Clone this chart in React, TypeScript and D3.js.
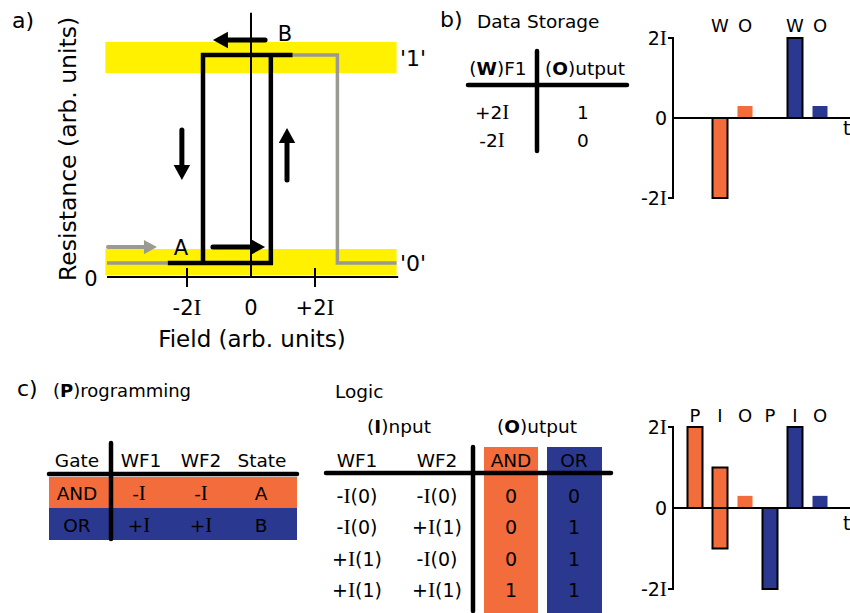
import React from "react";
import * as d3 from "d3";

// ---------- Panel a: hysteresis loop ----------
const LOW = 0.063;
const HIGH = 1.0;
const fieldTicks = [-2, 0, 2];
const fieldTickLabels = ["-2I", "0", "+2I"];
const loopField = [-2.6, 0.62, 0.62, 1.3, -1.5, -1.5];
const loopR = [LOW, LOW, HIGH, HIGH, HIGH, LOW];
const greyInField = [-4.5, -2.6];
const greyInR = [LOW, LOW];
const greyOutField = [1.3, 2.7, 2.7, 4.55];
const greyOutR = [HIGH, HIGH, LOW, LOW];
const bandLow = [0.009, 0.126];
const bandHigh = [0.919, 1.059];
const stateLabels = ["'1'", "'0'"];

// ---------- Panel b: data storage ----------
const storageHeader = ["F1", "utput"];
const storageWrite = ["+2I", "-2I"];
const storageOut = ["1", "0"];
const storageSlots = [2, 3, 5, 6];
const storageKinds = ["W", "O", "W", "O"];
const storageValues = [-2, 0.3, 2, 0.3];
const storageColors = ["orange", "orange", "blue", "blue"];

// ---------- Panel c: programming / logic ----------
const progHeader = ["Gate", "WF1", "WF2", "State"];
const progGates = ["AND", "OR"];
const progWF1 = ["-I", "+I"];
const progWF2 = ["-I", "+I"];
const progState = ["A", "B"];

const logicWF1 = ["-I(0)", "-I(0)", "+I(1)", "+I(1)"];
const logicWF2 = ["-I(0)", "+I(1)", "-I(0)", "+I(1)"];
const logicAND = ["0", "0", "0", "1"];
const logicOR = ["0", "1", "1", "1"];

const logicSlots = [1, 2, 3, 4, 5, 6];
const logicKinds = ["P", "I", "O", "P", "I", "O"];
const logicLow = [0, -1, 0, -2, 0, 0];
const logicHigh = [2, 1, 0.3, 0, 2, 0.3];
const logicColors = ["orange", "orange", "orange", "blue", "blue", "blue"];

const yTickVals = [2, 0, -2];
const yTickLabels = ["2I", "0", "-2I"];

const ORANGE = "#F26D3B";
const BLUE = "#2B3890";
const YELLOW = "#FFF100";
const GREY = "#9a9a92";
const FONT = "DejaVu Sans, Verdana, sans-serif";
const SERIF = "Liberation Serif, Times New Roman, serif";

const colorOf = (c: string) => (c === "orange" ? ORANGE : BLUE);

function serifI(str: string) {
  const parts = str.split("I");
  const out: any[] = [];
  parts.forEach((p, i) => {
    if (p) out.push(<tspan key={"p" + i}>{p}</tspan>);
    if (i < parts.length - 1)
      out.push(
        <tspan key={"i" + i} fontFamily={SERIF} fontSize="1.13em">
          I
        </tspan>
      );
  });
  return out;
}

function Arrow({ x1, y1, x2, y2, color, w, head }: any) {
  const ang = Math.atan2(y2 - y1, x2 - x1);
  const bx = x2 - Math.cos(ang) * head;
  const by = y2 - Math.sin(ang) * head;
  const px = -Math.sin(ang) * head * 0.55;
  const py = Math.cos(ang) * head * 0.55;
  return (
    <g>
      <line x1={x1} y1={y1} x2={bx} y2={by} stroke={color} strokeWidth={w} strokeLinecap="round" />
      <polygon points={`${x2},${y2} ${bx + px},${by + py} ${bx - px},${by - py}`} fill={color} />
    </g>
  );
}

function BarChart({ slots, kinds, low, high, colors, yTop, yBottom, labelY, tY }: any) {
  const x = d3.scaleLinear().domain([0, 1]).range([670, 695]);
  const y = d3.scaleLinear().domain([2, -2]).range([yTop, yBottom]);
  const bw = 15;
  return (
    <g fontFamily={FONT}>
      {slots.map((s: number, i: number) => {
        const outlined = kinds[i] !== "O";
        const y0 = y(Math.max(low[i], high[i]));
        const y1 = y(Math.min(low[i], high[i]));
        return (
          <rect
            key={i}
            x={x(s) - bw / 2}
            y={y0}
            width={bw}
            height={y1 - y0}
            fill={colorOf(colors[i])}
            stroke={outlined ? "#000" : "none"}
            strokeWidth={2}
          />
        );
      })}
      <line x1={673} x2={850} y1={y(0)} y2={y(0)} stroke="#000" strokeWidth={2} />
      <path
        d={`M668,${y(2)} H673 V${y(-2)} H668`}
        fill="none"
        stroke="#000"
        strokeWidth={2}
      />
      {yTickVals.map((v, i) => (
        <text key={i} x={667} y={y(v) + 7} fontSize={19} textAnchor="end">
          {serifI(yTickLabels[i])}
        </text>
      ))}
      <text x={843} y={tY} fontSize={19}>
        t
      </text>
      {slots.map((s: number, i: number) => (
        <text key={"l" + i} x={x(s)} y={labelY} fontSize={18} textAnchor="middle">
          {kinds[i]}
        </text>
      ))}
    </g>
  );
}

export default function App() {
  const xA = d3.scaleLinear().domain([-2, 2]).range([187, 315]);
  const yA = d3.scaleLinear().domain([0, 1]).range([277, 55]);
  const line = d3
    .line<[number, number]>()
    .x((d) => xA(d[0]))
    .y((d) => yA(d[1]));
  const zip = (a: number[], b: number[]) => a.map((v, i) => [v, b[i]] as [number, number]);

  const bandX0 = xA(-4.55);
  const bandX1 = xA(4.55);

  return (
    <svg
      width={850}
      height={613}
      style={{ position: "absolute", left: 0, top: 0, background: "#fff" }}
      fontFamily={FONT}
    >
      <rect x={0} y={0} width={850} height={613} fill="#fff" />
      {/* ---------------- Panel a ---------------- */}
      <text x={12} y={28} fontSize={22}>
        a)
      </text>
      <rect x={bandX0} y={yA(bandHigh[1])} width={bandX1 - bandX0} height={yA(bandHigh[0]) - yA(bandHigh[1])} fill={YELLOW} />
      <rect x={bandX0} y={yA(bandLow[1])} width={bandX1 - bandX0} height={yA(bandLow[0]) - yA(bandLow[1])} fill={YELLOW} />
      {/* axes */}
      <line x1={xA(-4.5)} x2={xA(4.6)} y1={yA(0)} y2={yA(0)} stroke="#000" strokeWidth={2} />
      <line x1={xA(0)} x2={xA(0)} y1={yA(0)} y2={yA(1.19)} stroke="#000" strokeWidth={2} />
      {fieldTicks
        .filter((t) => t !== 0)
        .map((t) => (
          <line key={t} x1={xA(t)} x2={xA(t)} y1={yA(0) - 9} y2={yA(0) + 10} stroke="#000" strokeWidth={2} />
        ))}
      {fieldTicks.map((t, i) => (
        <text key={t} x={xA(t)} y={315} fontSize={21} textAnchor="middle">
          {serifI(fieldTickLabels[i])}
        </text>
      ))}
      <text x={91} y={286} fontSize={21} textAnchor="middle">
        0
      </text>
      <text x={252} y={347} fontSize={23} textAnchor="middle">
        Field (arb. units)
      </text>
      <text
        transform="translate(76,149) rotate(-90)"
        fontSize={23.5}
        textAnchor="middle"
      >
        Resistance (arb. units)
      </text>
      {/* grey path */}
      <path d={line(zip(greyInField, greyInR)) || ""} fill="none" stroke={GREY} strokeWidth={3.5} />
      <path d={line(zip(greyOutField, greyOutR)) || ""} fill="none" stroke={GREY} strokeWidth={3.5} />
      {/* loop */}
      <path
        d={line(zip(loopField, loopR)) || ""}
        fill="none"
        stroke="#000"
        strokeWidth={4.5}
        strokeLinejoin="miter"
      />
      {/* arrows */}
      <Arrow x1={xA(-4.47)} y1={yA(0.135)} x2={xA(-2.94)} y2={yA(0.135)} color={GREY} w={4} head={13} />
      <Arrow x1={xA(-1.19)} y1={yA(0.135)} x2={xA(0.44)} y2={yA(0.135)} color="#000" w={5} head={15} />
      <Arrow x1={xA(0.44)} y1={yA(1.068)} x2={xA(-1.19)} y2={yA(1.068)} color="#000" w={5} head={15} />
      <Arrow x1={xA(-2.16)} y1={yA(0.662)} x2={xA(-2.16)} y2={yA(0.437)} color="#000" w={5} head={15} />
      <Arrow x1={xA(1.125)} y1={yA(0.437)} x2={xA(1.125)} y2={yA(0.671)} color="#000" w={5} head={15} />
      <text x={181} y={255} fontSize={21} textAnchor="middle">
        A
      </text>
      <text x={285} y={41} fontSize={21} textAnchor="middle">
        B
      </text>
      <text x={400} y={66} fontSize={22}>
        {stateLabels[0]}
      </text>
      <text x={400} y={271} fontSize={22}>
        {stateLabels[1]}
      </text>

      {/* ---------------- Panel b ---------------- */}
      <text x={440} y={27} fontSize={22}>
        b)
      </text>
      <text x={477} y={28} fontSize={18.5}>
        Data Storage
      </text>
      <text x={498} y={75} fontSize={18.5} textAnchor="middle">
        (<tspan fontWeight="bold">W</tspan>)
        {storageHeader[0]}
      </text>
      <text x={585} y={75} fontSize={18.5} textAnchor="middle">
        (<tspan fontWeight="bold">O</tspan>)
        {storageHeader[1]}
      </text>
      <line x1={468} x2={627} y1={85} y2={85} stroke="#000" strokeWidth={4.5} strokeLinecap="round" />
      <line x1={537} x2={537} y1={51} y2={151} stroke="#000" strokeWidth={4.5} strokeLinecap="round" />
      {storageWrite.map((w, i) => (
        <g key={i}>
          <text x={492} y={119 + i * 28} fontSize={18.5} textAnchor="middle">
            {serifI(w)}
          </text>
          <text x={583} y={119 + i * 28} fontSize={18.5} textAnchor="middle">
            {storageOut[i]}
          </text>
        </g>
      ))}
      <BarChart
        slots={storageSlots}
        kinds={storageKinds}
        low={storageValues.map((v) => Math.min(0, v))}
        high={storageValues.map((v) => Math.max(0, v))}
        colors={storageColors}
        yTop={38}
        yBottom={198}
        labelY={32}
        tY={135}
      />

      {/* ---------------- Panel c ---------------- */}
      <text x={17} y={396} fontSize={22}>
        c)
      </text>
      <text x={53} y={397} fontSize={18}>
        (<tspan fontWeight="bold">P</tspan>)rogramming
      </text>
      {/* programming table */}
      <rect x={49} y={477} width={248} height={31} fill={ORANGE} />
      <rect x={49} y={508} width={248} height={32} fill={BLUE} />
      {progHeader.map((h, i) => (
        <text key={h} x={[77, 141, 201, 262][i]} y={467} fontSize={18.5} textAnchor="middle">
          {h}
        </text>
      ))}
      <line x1={49} x2={297} y1={474} y2={474} stroke="#000" strokeWidth={4.5} strokeLinecap="round" />
      <line x1={111} x2={111} y1={443} y2={539} stroke="#000" strokeWidth={4.5} strokeLinecap="round" />
      {progGates.map((g, i) => (
        <g key={g} fontSize={18.5} textAnchor="middle">
          <text x={77} y={500 + i * 32}>{g}</text>
          <text x={139} y={500 + i * 32}>{serifI(progWF1[i])}</text>
          <text x={201} y={500 + i * 32}>{serifI(progWF2[i])}</text>
          <text x={261} y={500 + i * 32}>{progState[i]}</text>
        </g>
      ))}
      {/* logic table */}
      <text x={335} y={398} fontSize={18.5}>
        Logic
      </text>
      <text x={399} y={433} fontSize={18.5} textAnchor="middle">
        (<tspan fontWeight="bold">I</tspan>)nput
      </text>
      <text x={537} y={433} fontSize={18.5} textAnchor="middle">
        (<tspan fontWeight="bold">O</tspan>)utput
      </text>
      <rect x={484} y={447} width={54} height={166} fill={ORANGE} />
      <rect x={547} y={447} width={55} height={166} fill={BLUE} />
      <text x={357} y={467} fontSize={18.5} textAnchor="middle">
        WF1
      </text>
      <text x={437} y={467} fontSize={18.5} textAnchor="middle">
        WF2
      </text>
      <text x={511} y={467} fontSize={18.5} textAnchor="middle">
        AND
      </text>
      <text x={574} y={467} fontSize={18.5} textAnchor="middle">
        OR
      </text>
      <line x1={326} x2={611} y1={473} y2={473} stroke="#000" strokeWidth={4.5} strokeLinecap="round" />
      <line x1={473} x2={473} y1={447} y2={611} stroke="#000" strokeWidth={4.5} strokeLinecap="round" />
      {logicWF1.map((w, i) => (
        <g key={i} fontSize={19} textAnchor="middle">
          <text x={357} y={503 + i * 31.3}>{serifI(w)}</text>
          <text x={437} y={503 + i * 31.3}>{serifI(logicWF2[i])}</text>
          <text x={511} y={503 + i * 31.3}>{logicAND[i]}</text>
          <text x={574} y={503 + i * 31.3}>{logicOR[i]}</text>
        </g>
      ))}
      <BarChart
        slots={logicSlots}
        kinds={logicKinds}
        low={logicLow}
        high={logicHigh}
        colors={logicColors}
        yTop={427}
        yBottom={589}
        labelY={422}
        tY={530}
      />
    </svg>
  );
}
